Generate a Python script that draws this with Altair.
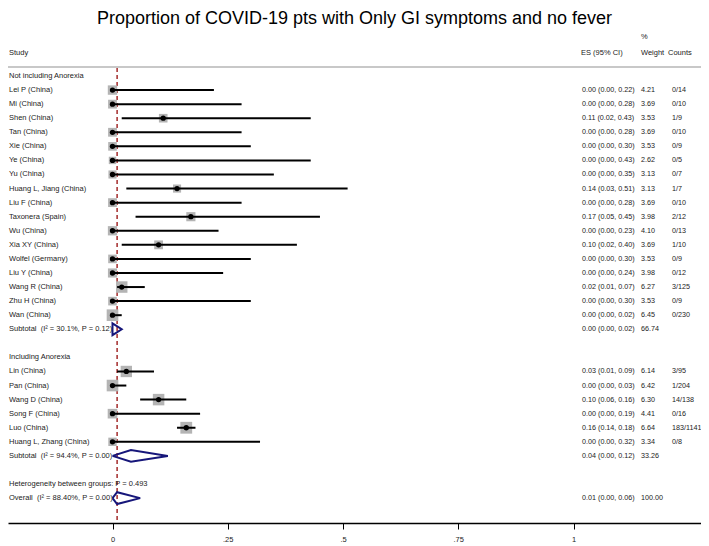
import altair as alt
import pandas as pd

# ---------------- data ----------------
studies = ["Lei P (China)", "Mi (China)", "Shen (China)", "Tan (China)", "Xie (China)",
           "Ye (China)", "Yu (China)", "Huang L, Jiang (China)", "Liu F (China)",
           "Taxonera (Spain)", "Wu (China)", "Xia XY (China)", "Wolfel (Germany)",
           "Liu Y (China)", "Wang R (China)", "Zhu H (China)", "Wan (China)",
           "Lin (China)", "Pan (China)", "Wang D (China)", "Song F (China)",
           "Luo (China)", "Huang L, Zhang (China)"]
groups = [1] * 17 + [2] * 6
es = [0.00, 0.00, 0.11, 0.00, 0.00, 0.00, 0.00, 0.14, 0.00, 0.17, 0.00, 0.10, 0.00,
      0.00, 0.02, 0.00, 0.00, 0.03, 0.00, 0.10, 0.00, 0.16, 0.00]
lo = [0.00, 0.00, 0.02, 0.00, 0.00, 0.00, 0.00, 0.03, 0.00, 0.05, 0.00, 0.02, 0.00,
      0.00, 0.01, 0.00, 0.00, 0.01, 0.00, 0.06, 0.00, 0.14, 0.00]
hi = [0.22, 0.28, 0.43, 0.28, 0.30, 0.43, 0.35, 0.51, 0.28, 0.45, 0.23, 0.40, 0.30,
      0.24, 0.07, 0.30, 0.02, 0.09, 0.03, 0.16, 0.19, 0.18, 0.32]
weight = [4.21, 3.69, 3.53, 3.69, 3.53, 2.62, 3.13, 3.13, 3.69, 3.98, 4.10, 3.69, 3.53,
          3.98, 6.27, 3.53, 6.45, 6.14, 6.42, 6.30, 4.41, 6.64, 3.34]
counts = ["0/14", "0/10", "1/9", "0/10", "0/9", "0/5", "0/7", "1/7", "0/10", "2/12",
          "0/13", "1/10", "0/9", "0/12", "3/125", "0/9", "0/230",
          "3/95", "1/204", "14/138", "0/16", "183/1141", "0/8"]

group_headers = ["Not including Anorexia", "Including Anorexia"]
pooled_labels = ["Subtotal\u00a0 (I\u00b2 = 30.1%, P = 0.12)",
                 "Subtotal\u00a0 (I\u00b2 = 94.4%, P = 0.00)",
                 "Overall\u00a0 (I\u00b2 = 88.40%, P = 0.00)"]
pooled_es = [0.00, 0.04, 0.01]
pooled_lo = [0.00, 0.00, 0.00]
pooled_hi = [0.02, 0.12, 0.06]
pooled_weight = [66.74, 33.26, 100.00]
het_text = "Heterogeneity between groups: P = 0.493"

title_text = "Proportion of COVID-19 pts with Only GI symptoms and no fever"
tick_values = [0, 0.25, 0.5, 0.75, 1]

# ---------------- row layout ----------------
study_rows = []
label_rows = []
pooled_rows = []
r = 0
for g in (1, 2):
    label_rows.append((r, group_headers[g - 1]))
    r += 1
    for gg in groups:
        if gg == g:
            study_rows.append(r)
            r += 1
    pooled_rows.append(r)
    r += 2
het_row = r
pooled_rows.append(r + 1)

studies_df = pd.DataFrame({
    "row": study_rows, "label": studies, "es": es, "lo": lo, "hi": hi,
    "weight": weight, "counts": counts,
})
studies_df["estxt"] = [f"{a:.2f} ({b:.2f}, {c:.2f})" for a, b, c in zip(es, lo, hi)]
studies_df["wtxt"] = [f"{w:.2f}" for w in weight]

pooled_df = pd.DataFrame({
    "row": pooled_rows, "label": pooled_labels, "es": pooled_es,
    "lo": pooled_lo, "hi": pooled_hi,
})
pooled_df["estxt"] = [f"{a:.2f} ({b:.2f}, {c:.2f})" for a, b, c in zip(pooled_es, pooled_lo, pooled_hi)]
pooled_df["wtxt"] = [f"{w:.2f}" for w in pooled_weight]

labels_df = pd.DataFrame(
    [{"row": rr, "label": t} for rr, t in label_rows] + [{"row": het_row, "label": het_text}]
)

d = 0.42
dia = []
for k, (rr, a, b, c) in enumerate(zip(pooled_rows, pooled_es, pooled_lo, pooled_hi)):
    pts = [(b, rr), (a, rr - d), (c, rr), (a, rr + d), (b, rr)]
    for o, (xx, yy) in enumerate(pts):
        dia.append({"g": k, "o": o, "x": xx, "y": yy})
dia_df = pd.DataFrame(dia)

overall_df = pd.DataFrame({"es": [pooled_es[2]]})

# ---------------- scales ----------------
TOP = 10
W = 693
H = 523 - 8 - TOP
x0_px, unit_px = 104.5, 461.0
xscale = alt.Scale(domain=[-x0_px / unit_px, (W - x0_px) / unit_px], nice=False, zero=False)
row0_px, row_px = 76 - 8 - TOP, 14.07
yscale = alt.Scale(domain=[-row0_px / row_px, (H - row0_px) / row_px], reverse=True,
                   nice=False, zero=False)
xaxis = alt.Axis(values=tick_values,
                 labelExpr="datum.value == 0 ? '0' : datum.value == 1 ? '1' : "
                           "replace(format(datum.value, '.2~f'), '0.', '.')",
                 title=None, grid=False, domainColor="black", domainWidth=1.5,
                 tickColor="black", tickSize=6, tickWidth=1, labelFontSize=7.5,
                 labelColor="#222", labelPadding=6, labelFont="Liberation Sans")


def X(f):
    return alt.X(f, type="quantitative", scale=xscale, axis=xaxis)


def Y(f):
    return alt.Y(f, type="quantitative", scale=yscale, axis=None)


FS = 7.5
FSN = 7.2
FONT = "Liberation Sans"
TXT = "#222222"

base = alt.Chart(studies_df)


def py(page_y):
    return page_y - 8 - TOP


header_rule = alt.Chart(overall_df).mark_rule(color="#c8c8c8", strokeWidth=2).encode(
    x=alt.value(0), x2=alt.value(W), y=alt.value(py(67)))

ref_line = alt.Chart(overall_df).mark_rule(color="#a32a2a", strokeWidth=1.5,
                                           strokeDash=[4, 3]).encode(
    x=X("es"), y=alt.value(py(68)), y2=alt.value(H))

boxes = base.mark_square(color="#b4b4b4", opacity=1).encode(
    x=X("es"), y=Y("row"),
    size=alt.Size("weight:Q", scale=alt.Scale(domain=[0, 10], range=[0, 210]), legend=None))

ci = base.mark_rule(color="black", strokeWidth=2).encode(
    x=X("lo"), x2="hi", y=Y("row"))

dots = base.mark_circle(color="black", size=28, opacity=1).encode(
    x=X("es"), y=Y("row"))

diamonds = alt.Chart(dia_df).mark_line(color="#16167a", strokeWidth=2).encode(
    x=X("x"), y=Y("y"), detail="g:N", order="o:Q")


def text_layer(df, field, xpx, fs=FS):
    return alt.Chart(df).mark_text(align="left", baseline="middle", fontSize=fs,
                                   font=FONT, color=TXT).encode(
        x=alt.value(xpx), y=Y("row"), text=f"{field}:N")


t_study = text_layer(studies_df, "label", 1)
t_es = text_layer(studies_df, "estxt", 574, FSN)
t_w = text_layer(studies_df, "wtxt", 633, FSN)
t_c = text_layer(studies_df, "counts", 664, FSN)
t_pl = text_layer(pooled_df, "label", 1)
t_pes = text_layer(pooled_df, "estxt", 574, FSN)
t_pw = text_layer(pooled_df, "wtxt", 633, FSN)
t_lab = text_layer(labels_df, "label", 1)

hdr_t = ["Study", "ES (95% CI)", "%", "Weight", "Counts"]
hdr_x = [1, 573, 633, 633, 660]
hdr_y = [53, 53, 37, 53, 53]
headers = []
for t, xx, yy in zip(hdr_t, hdr_x, hdr_y):
    headers.append(alt.Chart(overall_df).mark_text(
        text=t, align="left", baseline="middle", fontSize=FS, font=FONT, color=TXT
    ).encode(x=alt.value(xx), y=alt.value(py(yy))))

title = alt.Chart(overall_df).mark_text(
    text=title_text, align="center", baseline="middle", fontSize=18, font=FONT,
    color="black").encode(x=alt.value(354.5 - 8), y=alt.value(py(19)))

chart = alt.layer(
    header_rule, ref_line, boxes, ci, dots, diamonds,
    t_study, t_es, t_w, t_c, t_pl, t_pes, t_pw, t_lab, *headers, title
).properties(
    width=W, height=H,
    autosize=alt.AutoSizeParams(type="none"),
    padding={"left": 0, "top": TOP, "right": 0, "bottom": 22},
    background="white",
).configure_view(stroke=None)

chart.save("out.html", embed_options={"renderer": "svg", "actions": False})
